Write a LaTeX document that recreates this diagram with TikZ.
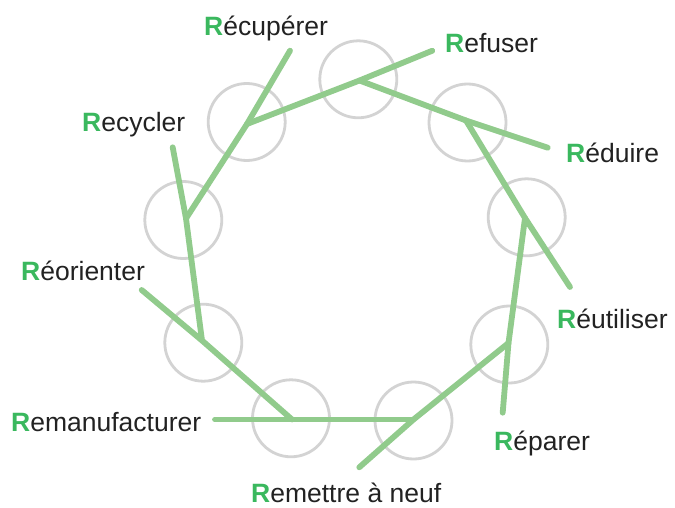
\documentclass[tikz,border=0pt]{standalone}
\usepackage{fontspec}
\setmainfont{Liberation Sans}
\definecolor{linegreen}{RGB}{145,203,140}
\definecolor{rgreen}{RGB}{58,184,94}
\definecolor{ringgray}{RGB}{211,211,211}
\definecolor{textdark}{RGB}{34,34,34}
\newcommand{\Rlab}[1]{{\bfseries\color{rgreen}R}#1}
\begin{document}
\begin{tikzpicture}[x=1pt,y=-1pt,
  ring/.style={circle,draw=ringgray,line width=2.8pt,minimum size=77pt,inner sep=0pt},
  spoke/.style={draw=linegreen,line width=5.8pt,line cap=round,line join=round},
  rlabel/.style={anchor=base west,inner sep=0pt,text=textdark,font=\fontsize{26.5}{30}\selectfont}]
\useasboundingbox (0,0) rectangle (675,508);

% ring of circles
\node[ring] (c1) at (358.3,79.3) {};
\node[ring] (c2) at (467.5,122.5) {};
\node[ring] (c3) at (526.7,217.3) {};
\node[ring] (c4) at (509.3,344.5) {};
\node[ring] (c5) at (413.5,420.5) {};
\node[ring] (c6) at (291,418.3) {};
\node[ring] (c7) at (203.3,342.7) {};
\node[ring] (c8) at (183.3,220) {};
\node[ring] (c9) at (246.7,122) {};

% junction points inside the circles
\coordinate (j1) at (359.5,80.5);
\coordinate (j2) at (466,120.5);
\coordinate (j3) at (525,218);
\coordinate (j4) at (508.5,343);
\coordinate (j5) at (413.5,419.5);
\coordinate (j6) at (292,419.5);
\coordinate (j7) at (202,340.5);
\coordinate (j8) at (186,218.5);
\coordinate (j9) at (247,124);

% free ends pointing at the labels
\coordinate (e1) at (432.3,50.7);
\coordinate (e2) at (547.7,147.7);
\coordinate (e3) at (570,287);
\coordinate (e4) at (502.7,412.7);
\coordinate (e5) at (359.3,467.3);
\coordinate (e6) at (215,419.5);
\coordinate (e7) at (141.7,290);
\coordinate (e8) at (172.7,147.3);
\coordinate (e9) at (290,50.7);

% green segments, each running through the next junction
\draw[spoke] (j9) -- (j1) -- (e1);
\draw[spoke] (j1) -- (j2) -- (e2);
\draw[spoke] (j2) -- (j3) -- (e3);
\draw[spoke] (j3) -- (j4) -- (e4);
\draw[spoke] (j4) -- (j5) -- (e5);
\draw[spoke] (j5) -- (j6) -- (e6);
\draw[spoke] (j6) -- (j7) -- (e7);
\draw[spoke] (j7) -- (j8) -- (e8);
\draw[spoke] (j8) -- (j9) -- (e9);

% labels
\node[rlabel] (l1) at (445,53) {\Rlab{efuser}};
\node[rlabel] (l2) at (566,163) {\Rlab{éduire}};
\node[rlabel] (l3) at (557,328) {\Rlab{éutiliser}};
\node[rlabel] (l4) at (494,450) {\Rlab{éparer}};
\node[rlabel] (l5) at (251,502) {\Rlab{emettre à neuf}};
\node[rlabel] (l6) at (11,431) {\Rlab{emanufacturer}};
\node[rlabel] (l7) at (21,280) {\Rlab{éorienter}};
\node[rlabel] (l8) at (82,132) {\Rlab{ecycler}};
\node[rlabel] (l9) at (204,36) {\Rlab{écupérer}};
\end{tikzpicture}
\end{document}
